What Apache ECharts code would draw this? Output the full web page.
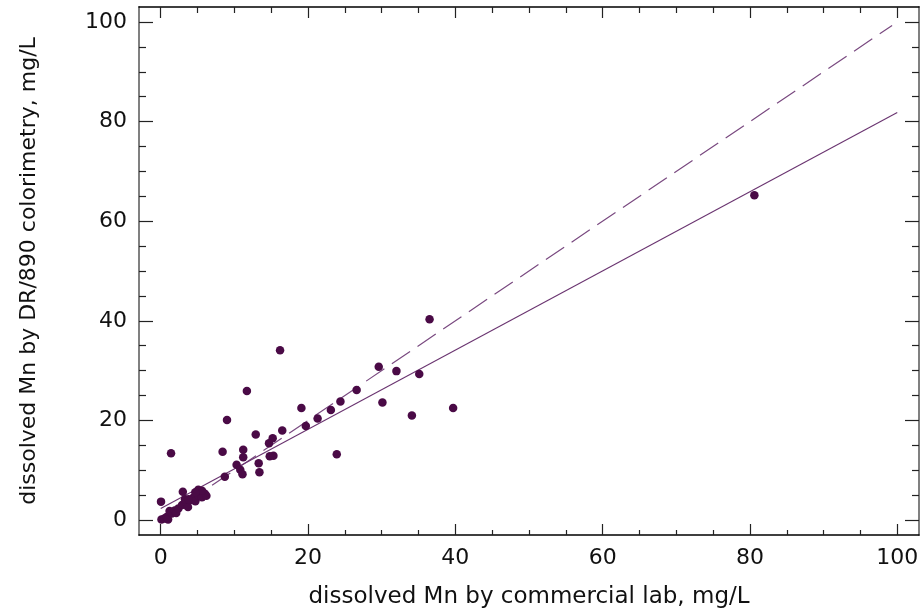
<!DOCTYPE html>
<html>
<head>
<meta charset="utf-8">
<script src="https://cdn.jsdelivr.net/npm/echarts@6/dist/echarts.min.js"></script>
<style>
html,body{margin:0;padding:0;background:#fff;}
#c{width:922px;height:614px;}
</style>
</head>
<body>
<div id="c"></div>
<script>
// ---- data ----
const commercialLab = [
  80.6, 36.5, 29.6, 32.0, 35.1, 26.6, 24.4, 23.1, 21.3, 19.1, 19.7, 30.1, 34.1, 39.7, 23.9,
  16.2, 11.7, 8.4, 9.0, 8.7, 10.3, 10.8, 11.1, 11.2, 11.2, 12.9, 13.3, 13.4, 14.7, 15.2, 14.8, 15.3, 16.5,
  0.04, 1.4, 3.0, 5.1, 6.0, 0.1, 0.5, 0.8, 1.0, 1.5, 1.2, 1.9, 2.1, 2.4, 2.9, 3.5, 3.7, 4.0, 4.4, 4.7,
  5.1, 5.6, 3.3, 6.2, 5.6, 4.7, 3.8
];
const colorimetry = [
  65.2, 40.3, 30.8, 29.9, 29.3, 26.1, 23.8, 22.1, 20.4, 22.5, 18.9, 23.6, 21.0, 22.5, 13.2,
  34.1, 25.9, 13.7, 20.1, 8.7, 11.1, 10.1, 9.2, 14.1, 12.6, 17.2, 11.4, 9.6, 15.4, 16.4, 12.8, 12.9, 18.0,
  3.7, 13.4, 5.7, 6.1, 5.3, 0.1, 0.3, 0.6, 0.1, 1.3, 1.8, 1.9, 1.4, 2.3, 3.0, 3.3, 2.6, 4.0, 4.5, 3.8,
  5.0, 4.6, 4.2, 4.9, 5.9, 5.6, 4.2
];
const fitX = [0, 100];
const fitY = [2.3, 81.8];
const oneToOneX = [0, 99.3];
const oneToOneY = [0, 99.3];
const majorTicks = [0, 20, 40, 60, 80, 100];
const minorTicks = [5, 10, 15, 25, 30, 35, 45, 50, 55, 65, 70, 75, 85, 90, 95];
const xTitle = 'dissolved Mn by commercial lab, mg/L';
const yTitle = 'dissolved Mn by DR/890 colorimetry, mg/L';

// ---- build ----
const points = commercialLab.map((x, i) => [x, colorimetry[i]]);
const fitLine = fitX.map((x, i) => [x, fitY[i]]);
const refLine = oneToOneX.map((x, i) => [x, oneToOneY[i]]);

const FONT = 'DejaVu Sans';
const XR = {min: -2.95, max: 102.95};
const YR = {min: -3.0, max: 103.0};

function ax(range, pos, opts) {
  return Object.assign({
    type: 'value', position: pos, min: range.min, max: range.max,
    splitLine: {show: false},
    axisLine: {show: false, onZero: false},
    axisLabel: {show: false},
    axisTick: {show: false}
  }, range, opts);
}
function ticks(vals, len) {
  return {show: true, inside: true, length: len, customValues: vals,
          lineStyle: {color: '#222', width: 1.2}};
}

const xAxes = [
  ax(XR, 'bottom', {
    axisLine: {show: true, onZero: false, lineStyle: {color: '#000', width: 1.5}},
    axisTick: ticks(majorTicks, 11),
    axisLabel: {show: true, customValues: majorTicks, margin: 12,
                fontFamily: FONT, fontSize: 22, color: '#111'},
    name: xTitle, nameLocation: 'middle', nameGap: 51,
    nameTextStyle: {fontFamily: FONT, fontSize: 23, color: '#111'}
  }),
  ax(XR, 'bottom', {axisTick: ticks(minorTicks, 5)}),
  ax(XR, 'top', {
    axisLine: {show: true, onZero: false, lineStyle: {color: '#000', width: 1.5}},
    axisTick: ticks(majorTicks, 11)
  }),
  ax(XR, 'top', {axisTick: ticks(minorTicks, 6)})
];
const yAxes = [
  ax(YR, 'left', {
    axisLine: {show: true, onZero: false, lineStyle: {color: '#808080', width: 2}},
    axisTick: ticks(majorTicks, 14),
    axisLabel: {show: true, customValues: majorTicks, margin: 12,
                fontFamily: FONT, fontSize: 22, color: '#111'},
    name: yTitle, nameLocation: 'middle', nameGap: 99,
    nameTextStyle: {fontFamily: FONT, fontSize: 22, color: '#111'}
  }),
  ax(YR, 'left', {axisTick: ticks(minorTicks, 7)}),
  ax(YR, 'right', {
    axisLine: {show: true, onZero: false, lineStyle: {color: '#808080', width: 2}},
    axisTick: ticks(majorTicks, 14)
  }),
  ax(YR, 'right', {axisTick: ticks(minorTicks, 7)})
];

const chart = echarts.init(document.getElementById('c'), null, {renderer: 'canvas'});
chart.setOption({
  animation: false,
  backgroundColor: '#fff',
  grid: {left: 139, right: 3, top: 7, bottom: 78, containLabel: false},
  xAxis: xAxes,
  yAxis: yAxes,
  series: [
    {
      type: 'line', data: refLine, xAxisIndex: 0, yAxisIndex: 0,
      showSymbol: false, silent: true, z: 2,
      lineStyle: {color: '#7a4a80', width: 1.2, type: [22, 9]}
    },
    {
      type: 'line', data: fitLine, xAxisIndex: 0, yAxisIndex: 0,
      showSymbol: false, silent: true, z: 2,
      lineStyle: {color: '#6a3470', width: 1.1}
    },
    {
      type: 'scatter', data: points, xAxisIndex: 0, yAxisIndex: 0,
      symbol: 'circle', symbolSize: 8.5, z: 3,
      itemStyle: {color: '#4a0a46', opacity: 1}
    }
  ]
});
</script>
</body>
</html>
